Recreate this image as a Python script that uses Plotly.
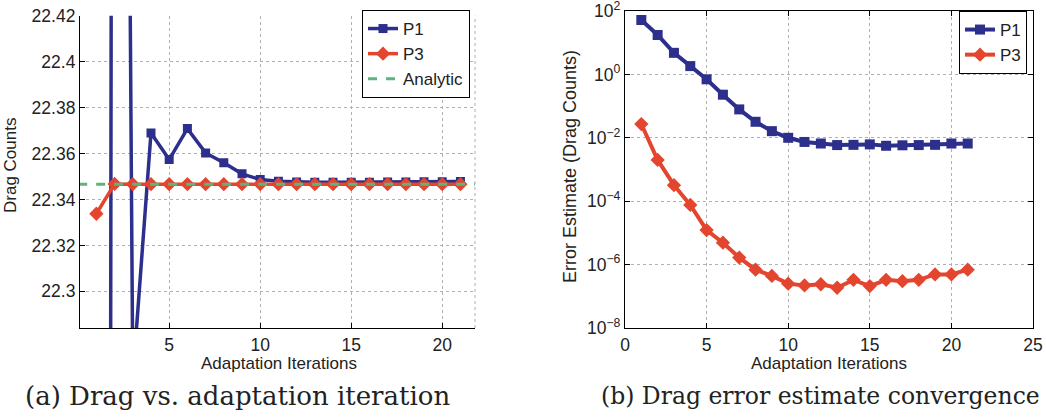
import plotly.graph_objects as go

# ---------------- data ----------------
iters = list(range(1, 22))

drag_p1 = [18.2, 23.4, 22.262, 22.369, 22.3574, 22.3709, 22.3603, 22.356, 22.3512,
           22.3487, 22.348, 22.3476, 22.3475, 22.3475, 22.3475, 22.3475, 22.3476,
           22.3476, 22.3477, 22.3477, 22.3478]
drag_p3 = [22.3338, 22.3468, 22.3467, 22.3467, 22.3467, 22.3467, 22.3467, 22.3467,
           22.3467, 22.3467, 22.3467, 22.3467, 22.3467, 22.3467, 22.3467, 22.3467,
           22.3467, 22.3467, 22.3467, 22.3467, 22.3467]
analytic = 22.3467
analytic_x = [0, 23]

err_p1 = [52, 17.5, 4.8, 1.83, 0.70, 0.229, 0.0787, 0.032, 0.0162, 0.0100, 0.0074,
          0.0066, 0.0059, 0.0060, 0.0062, 0.0056, 0.0058, 0.0059, 0.0060, 0.0066, 0.0066]
err_p3 = [0.0272, 0.0020, 3.2e-4, 7.6e-5, 1.23e-5, 4.9e-6, 1.66e-6, 6.9e-7, 4.4e-7,
          2.5e-7, 2.2e-7, 2.4e-7, 1.86e-7, 3.3e-7, 2.1e-7, 3.3e-7, 3.0e-7, 3.3e-7,
          4.9e-7, 4.9e-7, 6.9e-7]

left_yticks = [22.3, 22.32, 22.34, 22.36, 22.38, 22.4, 22.42]
left_yticklabels = ["22.3", "22.32", "22.34", "22.36", "22.38", "22.4", "22.42"]
left_xticks = [5, 10, 15, 20]
right_xticks = [0, 5, 10, 15, 20, 25]
right_yticks = [1e-8, 1e-6, 1e-4, 1e-2, 1e0, 1e2]
right_yticklabels = ["10<sup>−8</sup>", "10<sup>−6</sup>", "10<sup>−4</sup>",
                     "10<sup>−2</sup>", "10<sup>0</sup>", "10<sup>2</sup>"]

# ---------------- style ----------------
W, H = 1046, 417
BLUE = "#2d2f8c"
RED = "#e4452e"
GREEN = "#5fb37e"
FONT = "Liberation Sans, Arial, sans-serif"
SERIF = "DejaVu Serif, serif"
TXT = "#222"

def px_x(p):
    return p / W

def px_y(p):
    return 1 - p / H

fig = go.Figure()

fig.add_trace(go.Scatter(x=iters, y=drag_p1, name="P1", mode="lines+markers",
                         line=dict(color=BLUE, width=3.5),
                         marker=dict(symbol="square", size=9, color=BLUE),
                         xaxis="x", yaxis="y", legend="legend"))
fig.add_trace(go.Scatter(x=iters, y=drag_p3, name="P3", mode="lines+markers",
                         line=dict(color=RED, width=3.5),
                         marker=dict(symbol="diamond", size=11, color=RED),
                         xaxis="x", yaxis="y", legend="legend"))
fig.add_trace(go.Scatter(x=analytic_x, y=[analytic, analytic], name="Analytic",
                         mode="lines", line=dict(color=GREEN, width=3, dash="dash"),
                         xaxis="x", yaxis="y", legend="legend"))

fig.add_trace(go.Scatter(x=iters, y=err_p1, name="P1", mode="lines+markers",
                         line=dict(color=BLUE, width=4),
                         marker=dict(symbol="square", size=10, color=BLUE),
                         xaxis="x2", yaxis="y2", legend="legend2"))
fig.add_trace(go.Scatter(x=iters, y=err_p3, name="P3", mode="lines+markers",
                         line=dict(color=RED, width=4),
                         marker=dict(symbol="diamond", size=11, color=RED),
                         xaxis="x2", yaxis="y2", legend="legend2"))

axis_common = dict(showline=True, linecolor="black", linewidth=1.2,
                   ticks="inside", ticklen=5, tickcolor="black",
                   showgrid=True, gridcolor="#b0b0b0", griddash="dot", gridwidth=1,
                   zeroline=False, automargin=False, ticklabeloverflow="allow",
                   tickfont=dict(family=FONT, size=17.5, color=TXT))

fig.update_layout(
    template="none",
    width=W, height=H,
    margin=dict(l=0, r=0, t=0, b=0),
    paper_bgcolor="white", plot_bgcolor="white",
    font=dict(family=FONT, size=17, color=TXT),
    xaxis=dict(domain=[px_x(80), px_x(475)], range=[0.1, 21.8], anchor="y",
               tickvals=left_xticks, ticklabelstandoff=1, **axis_common),
    yaxis=dict(domain=[px_y(328), px_y(15.7)], range=[22.284, 22.4201], anchor="x",
               tickvals=left_yticks, ticktext=left_yticklabels, **axis_common),
    xaxis2=dict(domain=[px_x(625), px_x(1033)], range=[0, 25.001], anchor="y2",
                tickvals=right_xticks, mirror="ticks", ticklabelstandoff=1,
                **axis_common),
    yaxis2=dict(domain=[px_y(328), px_y(11)], type="log", range=[-8.0005, 2.0005],
                anchor="x2", tickvals=right_yticks, ticktext=right_yticklabels,
                mirror="ticks", **axis_common),
    legend=dict(x=px_x(470), y=px_y(10), xanchor="right", yanchor="top",
                bgcolor="white", bordercolor="black", borderwidth=1,
                font=dict(family=FONT, size=17, color=TXT),
                tracegroupgap=0, itemwidth=30),
    legend2=dict(x=px_x(1027), y=px_y(11), xanchor="right", yanchor="top",
                 bgcolor="white", bordercolor="black", borderwidth=1,
                 font=dict(family=FONT, size=17, color=TXT),
                 tracegroupgap=0, itemwidth=30),
    showlegend=True,
)

# dotted right border of left panel
fig.add_shape(type="line", xref="paper", yref="paper",
              x0=px_x(475), x1=px_x(475), y0=px_y(328), y1=px_y(15.7),
              line=dict(color="#b0b0b0", width=1, dash="dot"))

ann = [
    dict(text="Adaptation Iterations", x=px_x(279), y=px_y(363), size=17),
    dict(text="Adaptation Iterations", x=px_x(829), y=px_y(363), size=17),
    dict(text="Drag Counts", x=px_x(10), y=px_y(166), textangle=-90, size=17),
    dict(text="Error Estimate (Drag Counts)", x=px_x(570), y=px_y(167), textangle=-90,
         size=18),
]
for a in ann:
    s = a.pop("size")
    fig.add_annotation(xref="paper", yref="paper", showarrow=False,
                       xanchor="center", yanchor="middle",
                       font=dict(family=FONT, size=s, color=TXT), **a)

fig.add_annotation(text="(a) Drag vs. adaptation iteration", x=px_x(237), y=px_y(396),
                   xref="paper", yref="paper", showarrow=False,
                   xanchor="center", yanchor="middle",
                   font=dict(family=SERIF, size=26, color=TXT))
fig.add_annotation(text="(b) Drag error estimate convergence", x=px_x(820), y=px_y(396),
                   xref="paper", yref="paper", showarrow=False,
                   xanchor="center", yanchor="middle",
                   font=dict(family=SERIF, size=23.5, color=TXT))

fig.write_html("out.html")
